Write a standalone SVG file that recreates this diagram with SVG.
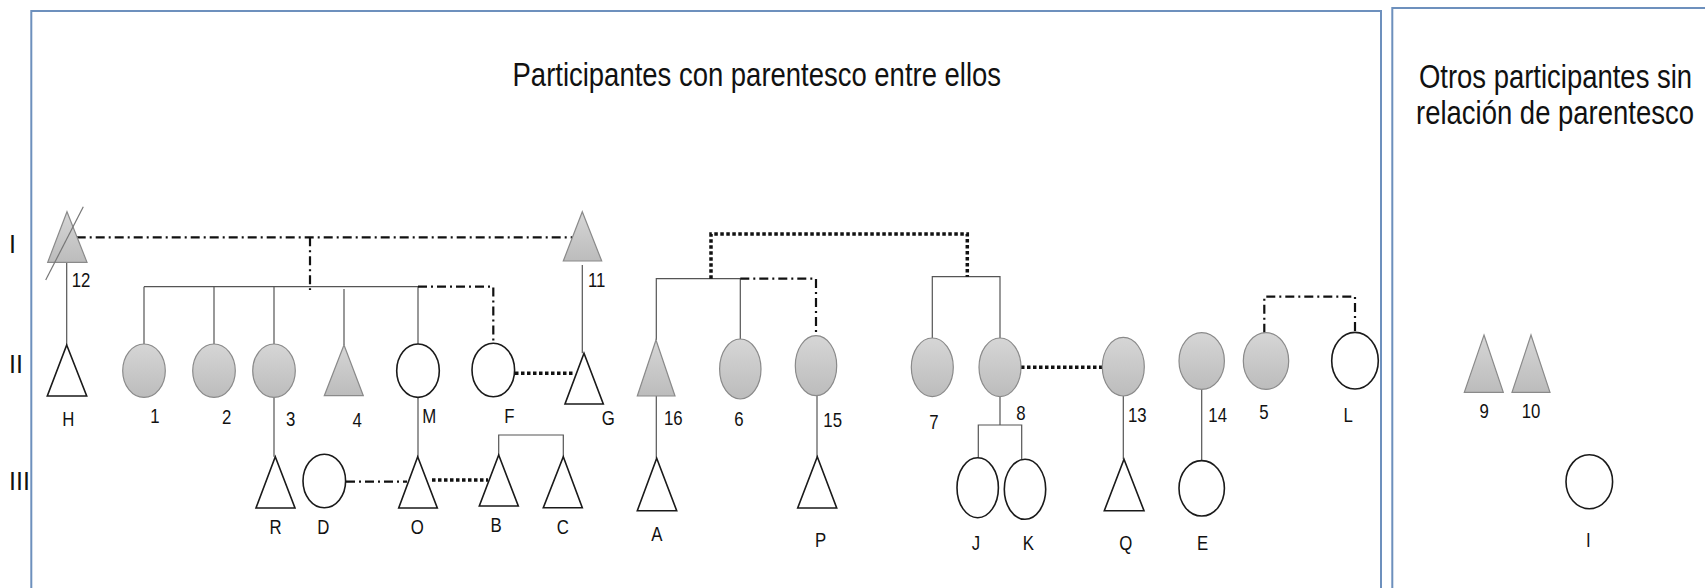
<svg xmlns="http://www.w3.org/2000/svg" width="1705" height="588" viewBox="0 0 1705 588">
<defs>
<linearGradient id="gray" x1="0" y1="0" x2="0" y2="1">
<stop offset="0" stop-color="#d6d6d6"/>
<stop offset="1" stop-color="#bcbcbc"/>
</linearGradient>
</defs>
<style>
.box{fill:none;stroke:#6d90bd;stroke-width:2}
.g{fill:url(#gray);stroke:#8a8a8a;stroke-width:1.2}
.w{fill:#fff;stroke:#1a1a1a;stroke-width:1.6}
.solid{fill:none;stroke:#555;stroke-width:1.2}
.dd{fill:none;stroke:#111;stroke-width:2.2;stroke-dasharray:9 4 2 4}
.dot{fill:none;stroke:#111;stroke-width:3.5;stroke-dasharray:3.5 2.5}
.lbl{font-family:"Liberation Sans",Arial,sans-serif;font-size:20px;fill:#111;text-anchor:middle;transform-box:fill-box;transform-origin:center;transform:scaleX(0.84)}
.rom{font-family:"Liberation Sans",Arial,sans-serif;font-size:25px;fill:#111}
.ttl{font-family:"Liberation Sans",Arial,sans-serif;font-size:33.5px;fill:#111;text-anchor:middle;transform-box:fill-box;transform-origin:center;transform:scaleX(0.82)}
</style>
<rect width="1705" height="588" fill="#fff"/>
<g id="frames">
<path class="box" d="M31.3,600 V11 H1381 V600"/>
<path class="box" d="M1392.3,600 V8 H1720"/>
</g>
<g id="titles">
<text class="ttl" x="756.8" y="86">Participantes con parentesco entre ellos</text>
<text class="ttl" x="1555.5" y="88.5">Otros participantes sin</text>
<text class="ttl" x="1555" y="124.5">relación de parentesco</text>
</g>
<g id="generations">
<text class="rom" x="9" y="253">I</text>
<text class="rom" x="9" y="373">II</text>
<text class="rom" x="9" y="490">III</text>
</g>
<g id="connectors">
<path class="solid" d="M66.7,263 V345"/>
<path class="solid" d="M144,286.7 H418"/>
<path class="solid" d="M144,286.7 V344 M214,286.7 V344 M274,286.7 V344 M344,289 V345 M418,286.7 V344"/>
<path class="solid" d="M274,397.4 V456.7 M418,397.4 V456.7"/>
<path class="solid" d="M498.7,455 V435 H563.3 V456.7"/>
<path class="solid" d="M582.3,265 V353.3"/>
<path class="solid" d="M656.3,340 V278.7 H740.3 V339"/>
<path class="solid" d="M656.3,396 V458.3"/>
<path class="solid" d="M817,395.7 V456.7"/>
<path class="solid" d="M932.3,338 V276.7 H1000 V338"/>
<path class="solid" d="M1000,396.7 V425 M978.3,458 V425 H1021.7 V459"/>
<path class="solid" d="M1123.3,396 V459.3"/>
<path class="solid" d="M1201.7,389.3 V460.6"/>
<path class="dd" d="M76.7,237.3 H572.4"/>
<path class="dd" d="M310,237.3 V290"/>
<path class="dd" d="M418,286.7 H493.3 V343"/>
<path class="dd" d="M346,481.7 H407"/>
<path class="dd" d="M740.3,278.7 H816 V335.7"/>
<path class="dd" d="M1264.3,332.7 V296.7 H1355 V332.4"/>
<path class="dot" d="M515,373.3 H574"/>
<path class="dot" d="M432,480 H488"/>
<path class="dot" d="M711,278.7 V234 H967.3 V276.7"/>
<path class="dot" d="M1021,367.3 H1102.7"/>
</g>
<g id="n12"><polygon class="g" points="67,211.7 87,262.3 47.7,262.3"/><line x1="83.3" y1="206.7" x2="45.7" y2="280" stroke="#777" stroke-width="1.2"/><text class="lbl" x="81" y="287">12</text></g>
<g id="n11"><polygon class="g" points="582.3,211.7 601.7,261 563.3,261"/><text class="lbl" x="596.7" y="287">11</text></g>
<g id="nH"><polygon class="w" points="66.7,345 86.7,396 47.3,396"/><text class="lbl" x="68.3" y="426.3">H</text></g>
<g id="n1"><ellipse class="g" cx="144" cy="370.7" rx="21.3" ry="26.7"/><text class="lbl" x="155" y="423">1</text></g>
<g id="n2"><ellipse class="g" cx="214" cy="370.7" rx="21.3" ry="26.7"/><text class="lbl" x="226.7" y="424">2</text></g>
<g id="n3"><ellipse class="g" cx="274" cy="370.7" rx="21.3" ry="26.7"/><text class="lbl" x="290.7" y="426">3</text></g>
<g id="n4"><polygon class="g" points="344,345 363.3,395.7 324.3,395.7"/><text class="lbl" x="357.3" y="427">4</text></g>
<g id="nM"><ellipse class="w" cx="418" cy="370.7" rx="21.3" ry="26.7"/><text class="lbl" x="429.3" y="423">M</text></g>
<g id="nF"><ellipse class="w" cx="493.3" cy="370" rx="21.3" ry="26.7"/><text class="lbl" x="509.3" y="423">F</text></g>
<g id="nG"><polygon class="w" points="584,353.3 603.3,404 565,404"/><text class="lbl" x="608.3" y="425.3">G</text></g>
<g id="n16"><polygon class="g" points="656,340 675,396 637.3,396"/><text class="lbl" x="673.3" y="425.3">16</text></g>
<g id="n6"><ellipse class="g" cx="740.3" cy="369" rx="20.7" ry="30"/><text class="lbl" x="739" y="426.3">6</text></g>
<g id="n15"><ellipse class="g" cx="816" cy="365.7" rx="20.7" ry="30"/><text class="lbl" x="832.7" y="427">15</text></g>
<g id="n7"><ellipse class="g" cx="932.3" cy="367.3" rx="21" ry="29.3"/><text class="lbl" x="934" y="428.7">7</text></g>
<g id="n8"><ellipse class="g" cx="1000" cy="367.3" rx="21" ry="29.3"/><text class="lbl" x="1021" y="420.3">8</text></g>
<g id="n13"><ellipse class="g" cx="1123.3" cy="366.7" rx="21" ry="29.3"/><text class="lbl" x="1137.3" y="422">13</text></g>
<g id="n14"><ellipse class="g" cx="1201.7" cy="361" rx="22.7" ry="28.3"/><text class="lbl" x="1217.7" y="422">14</text></g>
<g id="n5"><ellipse class="g" cx="1266" cy="361" rx="22.7" ry="28.3"/><text class="lbl" x="1264" y="418.7">5</text></g>
<g id="nL"><ellipse class="w" cx="1355" cy="360.7" rx="23.3" ry="28.3"/><text class="lbl" x="1348.3" y="422">L</text></g>
<g id="nR"><polygon class="w" points="275.3,456.7 295,508 256,508"/><text class="lbl" x="275.7" y="534.3">R</text></g>
<g id="nD"><ellipse class="w" cx="324.3" cy="481" rx="21.3" ry="26.7"/><text class="lbl" x="323.3" y="534.3">D</text></g>
<g id="nO"><polygon class="w" points="417.7,456.7 437.3,508 398.7,508"/><text class="lbl" x="417.3" y="534.3">O</text></g>
<g id="nB"><polygon class="w" points="498.7,455 518.3,506 479.3,506"/><text class="lbl" x="496" y="532">B</text></g>
<g id="nC"><polygon class="w" points="563.3,456.7 582.3,507.7 543.3,507.7"/><text class="lbl" x="562.7" y="533.7">C</text></g>
<g id="nA"><polygon class="w" points="656.7,458.3 676.7,510.7 637.3,510.7"/><text class="lbl" x="656.7" y="541">A</text></g>
<g id="nP"><polygon class="w" points="817.3,456.7 836.7,508 797.7,508"/><text class="lbl" x="820.7" y="547">P</text></g>
<g id="nJ"><ellipse class="w" cx="977.7" cy="487.7" rx="20.7" ry="30"/><text class="lbl" x="976" y="550.3">J</text></g>
<g id="nK"><ellipse class="w" cx="1025" cy="489.3" rx="20.7" ry="30"/><text class="lbl" x="1028.3" y="550.3">K</text></g>
<g id="nQ"><polygon class="w" points="1124,459.3 1144,510.7 1104.3,510.7"/><text class="lbl" x="1125.7" y="550.3">Q</text></g>
<g id="nE"><ellipse class="w" cx="1201.7" cy="488.3" rx="22.7" ry="27.7"/><text class="lbl" x="1202.7" y="549.7">E</text></g>
<g id="n9"><polygon class="g" points="1484,335 1503.3,392.3 1464.3,392.3"/><text class="lbl" x="1484.3" y="417.7">9</text></g>
<g id="n10"><polygon class="g" points="1531,335 1550,392.3 1512,392.3"/><text class="lbl" x="1531" y="417.7">10</text></g>
<g id="nI"><ellipse class="w" cx="1589.3" cy="481.7" rx="23.3" ry="27"/><text class="lbl" x="1588.3" y="547">I</text></g>
</svg>
